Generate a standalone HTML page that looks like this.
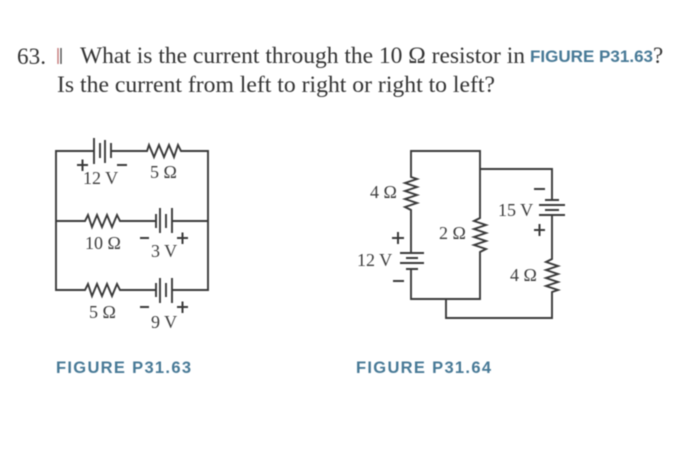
<!DOCTYPE html>
<html>
<head>
<meta charset="utf-8">
<style>
html,body{margin:0;padding:0;background:#fff}
body{width:700px;height:454px;overflow:hidden}
svg{display:block;filter:blur(0.5px)}
.q{font-family:"Liberation Serif",serif;font-size:23px;fill:#333}
.l{font-family:"Liberation Serif",serif;font-size:18px;fill:#3d3d3d}
.f{font-family:"Liberation Sans",sans-serif;font-size:17px;font-weight:bold;fill:#477996}
.c{font-family:"Liberation Sans",sans-serif;font-size:16.5px;font-weight:bold;fill:#477996}
.w{fill:none;stroke:#3a3a3a;stroke-width:1.9}
.t{fill:none;stroke:#3a3a3a;stroke-width:2}
</style>
</head>
<body>
<svg width="700" height="454" viewBox="0 0 700 454" xmlns="http://www.w3.org/2000/svg">
<rect width="700" height="454" fill="#fff"/>
<text class="q" x="17" y="64" textLength="29" lengthAdjust="spacingAndGlyphs">63.</text>
<path d="M58 48V64" stroke="#c07070" stroke-width="1.3"/>
<path d="M61 48V64" stroke="#444" stroke-width="1.3"/>
<text class="q" x="80" y="63" textLength="445" lengthAdjust="spacingAndGlyphs">What is the current through the 10 Ω resistor in</text>
<text class="f" x="530" y="62" textLength="123" lengthAdjust="spacingAndGlyphs">FIGURE P31.63</text>
<text class="q" x="653" y="63">?</text>
<text class="q" x="57" y="92" textLength="438" lengthAdjust="spacingAndGlyphs">Is the current from left to right or right to left?</text>

<!-- Left circuit -->
<path class="w" d="M94 151H56V290H85L88 284L92 296L97 284L102 296L107 284L112 296L117 284L120 290H156M172 290H208V151H181L178 145L174 157L169 145L164 157L159 145L154 157L149 145L147 151H111M56 221H85L88 215L92 227L97 215L102 227L107 215L112 227L117 215L120 221H156M172 221H208"/>
<path class="w" d="M94 138V164M100 143V158M105 140V163M111 143V158"/>
<path class="w" d="M156 214V228M160 208V233M166 214V228M172 208V233"/>
<path class="w" d="M156 283V297M160 278V303M166 283V297M172 278V303"/>
<path class="t" d="M77 165H88M82.500 159.500V171M117 165H127"/>
<text class="l" x="83" y="184">12 V</text>
<text class="l" x="150" y="178">5 Ω</text>
<text class="l" x="85" y="249">10 Ω</text>
<path class="t" d="M140 238H149M177 238H188M182.500 232.500V244"/>
<text class="l" x="151" y="257">3 V</text>
<text class="l" x="89" y="318">5 Ω</text>
<path class="t" d="M140 307H149M177 307H188M182.500 301.500V313"/>
<text class="l" x="151" y="328">9 V</text>

<!-- Right circuit -->
<path class="w" d="M411 253V226L411 210L405 207L417 203L405 199L417 195L405 191L417 187L405 183L417 179L411 177V151H480V218L474 221L486 225L474 229L486 233L474 237L486 241L474 245L486 249L480 252V299H411V269M480 169H552V200M552 215V259L546 262L558 266L546 270L558 274L546 278L558 282L546 286L558 290L552 292V318H446V299"/>
<path class="w" d="M400 253H424M406 258H418M400 263H424M406 269H418"/>
<path class="w" d="M545 200H559M539 205H565M545 210H559M539 215H565"/>
<text class="l" x="370" y="198">4 Ω</text>
<text class="l" x="439" y="239">2 Ω</text>
<text class="l" x="357" y="266">12 V</text>
<text class="l" x="498" y="216">15 V</text>
<text class="l" x="510" y="281">4 Ω</text>
<path class="t" d="M392 238H404M398 232V244M393 281H404M534 189H545M534 230H545M539.500 224V236"/>

<text class="c" x="56" y="373" textLength="135" lengthAdjust="spacing">FIGURE P31.63</text>
<text class="c" x="356" y="373" textLength="135" lengthAdjust="spacing">FIGURE P31.64</text>
</svg>
</body>
</html>
